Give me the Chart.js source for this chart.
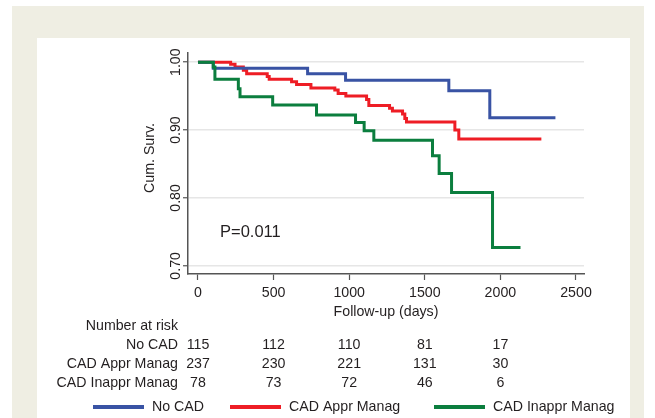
<!DOCTYPE html>
<html>
<head>
<meta charset="utf-8">
<script src="https://cdn.jsdelivr.net/npm/chart.js@4"></script>
<style>
  html, body { margin: 0; padding: 0; background: #fff; }
  canvas { display: block; }
</style>
</head>
<body>
<canvas id="kmChart" width="655" height="418"></canvas>
<script>
// Kaplan-Meier step points (day, cumulative survival)
const noCadDays = [0, 101, 725, 976, 1659, 1930, 2364];
const noCadSurv = [1.000, 0.991, 0.983, 0.9735, 0.958, 0.918, 0.918];

const apprDays = [0, 216, 245, 300, 322, 458, 471, 619, 652, 747, 905, 927, 978, 1115, 1130, 1267, 1286, 1353, 1368, 1379, 1699, 1725, 2271];
const apprSurv = [1.000, 0.997, 0.993, 0.988, 0.983, 0.979, 0.975, 0.971, 0.967, 0.962, 0.959, 0.954, 0.950, 0.945, 0.936, 0.932, 0.928, 0.9235, 0.917, 0.912, 0.900, 0.887, 0.887];

const inapprDays = [0, 101, 112, 267, 278, 494, 784, 1042, 1099, 1163, 1551, 1595, 1677, 1948, 2133];
const inapprSurv = [1.000, 0.993, 0.975, 0.961, 0.949, 0.937, 0.922, 0.911, 0.899, 0.885, 0.862, 0.836, 0.808, 0.727, 0.727];

const xTicks = [0, 500, 1000, 1500, 2000, 2500];
const yTicks = [0.70, 0.80, 0.90, 1.00];

// number at risk table
const riskDays = [0, 500, 1000, 1500, 2000];
const riskGroups = ['No CAD', 'CAD Appr Manag', 'CAD Inappr Manag'];
const riskNoCad = [115, 112, 110, 81, 17];
const riskAppr = [237, 230, 221, 131, 30];
const riskInappr = [78, 73, 72, 46, 6];

const seriesNames = ['No CAD', 'CAD Appr Manag', 'CAD Inappr Manag'];
const colors = ['#3953a4', '#ee1d25', '#0b7e3e'];

function toPoints(days, surv) {
    return days.map((d, i) => ({ x: d, y: surv[i] }));
}

const FONT = "14.2px 'Liberation Sans', Arial, sans-serif";
const TEXT = '#231f20';

const framePlugin = {
    id: 'frame',
    beforeDraw(chart) {
        const ctx = chart.ctx;
        ctx.save();
        ctx.fillStyle = '#fff';
        ctx.fillRect(0, 0, 655, 418);
        ctx.fillStyle = '#efeee3';
        ctx.fillRect(12, 6, 632, 412);
        ctx.fillStyle = '#fff';
        ctx.fillRect(37, 38, 593, 380);
        ctx.restore();
    },
    afterDraw(chart) {
        const ctx = chart.ctx;
        const xs = chart.scales.x;
        const ys = chart.scales.y;
        ctx.save();
        ctx.fillStyle = TEXT;
        ctx.font = FONT;

        // y tick labels, rotated
        ctx.textAlign = 'center';
        ctx.textBaseline = 'middle';
        yTicks.forEach(v => {
            ctx.save();
            ctx.translate(176.5, ys.getPixelForValue(v));
            ctx.rotate(-Math.PI / 2);
            ctx.fillText(v.toFixed(2), 0, 0);
            ctx.restore();
        });
        ctx.save();
        ctx.translate(150, 158);
        ctx.rotate(-Math.PI / 2);
        ctx.fillText('Cum. Surv.', 0, 0);
        ctx.restore();

        // x tick labels and title
        xTicks.forEach(v => ctx.fillText(String(v), xs.getPixelForValue(v), 293));
        ctx.fillText('Follow-up (days)', (xs.left + xs.right) / 2, 312);

        // annotation
        ctx.save();
        ctx.font = "16.5px 'Liberation Sans', Arial, sans-serif";
        ctx.textAlign = 'left';
        ctx.fillText('P=0.011', 220, 232);
        ctx.restore();

        // number at risk
        ctx.textAlign = 'right';
        ctx.fillText('Number at risk', 178, 326);
        const rows = [riskNoCad, riskAppr, riskInappr];
        const rowY = [345, 364, 383];
        rows.forEach((row, r) => {
            ctx.textAlign = 'right';
            ctx.fillText(riskGroups[r], 178, rowY[r]);
            ctx.textAlign = 'center';
            row.forEach((n, i) => ctx.fillText(String(n), xs.getPixelForValue(riskDays[i]), rowY[r]));
        });

        // legend
        const legX = [93, 230, 434];
        ctx.textAlign = 'left';
        seriesNames.forEach((name, i) => {
            ctx.strokeStyle = colors[i];
            ctx.lineWidth = 4;
            ctx.beginPath();
            ctx.moveTo(legX[i], 407);
            ctx.lineTo(legX[i] + 51, 407);
            ctx.stroke();
            ctx.fillText(name, legX[i] + 59, 407);
        });
        ctx.restore();
    }
};

const ctx = document.getElementById('kmChart').getContext('2d');
new Chart(ctx, {
    type: 'line',
    data: {
        datasets: [{
            label: seriesNames[2],
            data: toPoints(inapprDays, inapprSurv),
            borderColor: colors[2]
        }, {
            label: seriesNames[0],
            data: toPoints(noCadDays, noCadSurv),
            borderColor: colors[0]
        }, {
            label: seriesNames[1],
            data: toPoints(apprDays, apprSurv),
            borderColor: colors[1]
        }]
    },
    options: {
        responsive: false,
        animation: false,
        events: [],
        layout: { padding: { left: 178, top: 53, right: 71, bottom: 0 } },
        elements: {
            line: { stepped: 'before', borderWidth: 3, tension: 0, fill: false },
            point: { radius: 0 }
        },
        plugins: {
            legend: { display: false },
            tooltip: { enabled: false }
        },
        scales: {
            x: {
                type: 'linear',
                min: -66,
                max: 2553,
                afterBuildTicks: s => { s.ticks = xTicks.map(v => ({ value: v })); },
                afterFit: s => { s.height = 144; },
                ticks: { display: false },
                grid: { drawOnChartArea: false, drawTicks: true, tickLength: 6, tickColor: '#555', tickWidth: 1.2 },
                border: { color: '#555', width: 1.5 }
            },
            y: {
                type: 'linear',
                min: 0.688,
                max: 1.0135,
                afterBuildTicks: s => { s.ticks = yTicks.map(v => ({ value: v })); },
                afterFit: s => { s.width = 10; },
                ticks: { display: false },
                grid: { color: '#e6e6e6', lineWidth: 1.5, drawTicks: true, tickLength: 5, tickColor: '#555', tickWidth: 1.2 },
                border: { color: '#555', width: 1.5 }
            }
        }
    },
    plugins: [framePlugin]
});
</script>
</body>
</html>
